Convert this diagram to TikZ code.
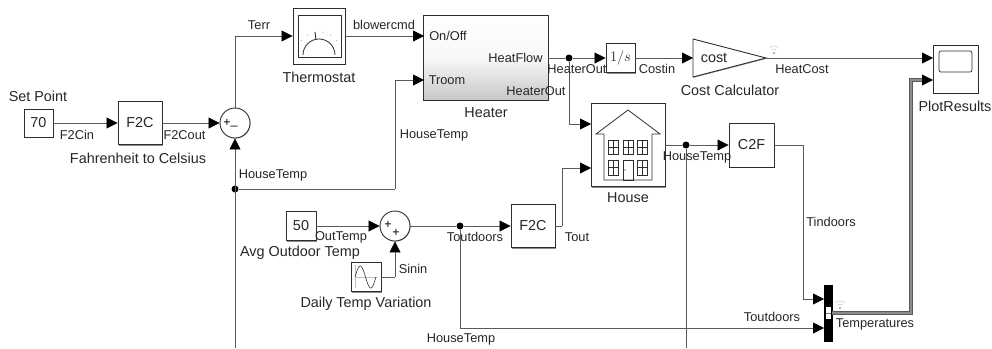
\documentclass[tikz,border=0pt]{standalone}
\usepackage{fontspec}
\setmainfont{Liberation Sans}
\usetikzlibrary{arrows.meta,shadows}

\definecolor{wireColour}{HTML}{5A5A5A}
\definecolor{borderColour}{HTML}{2E2E2E}
\definecolor{textColour}{HTML}{262626}

\tikzset{
    block/.style={draw=borderColour, fill=white, line width=0.9pt, inner sep=0pt,
        text=textColour, font=\fontsize{14.4}{16}\selectfont,
        drop shadow={shadow xshift=1pt, shadow yshift=-1pt, opacity=0.45, fill=black}},
    wire/.style={draw=wireColour, line width=0.8pt},
    feed/.style={wire, -{Triangle[length=11pt,width=11pt,black]}},
    junction/.style={circle, fill=black, inner sep=0pt, minimum size=7pt},
    sumBlock/.style={circle, draw=borderColour, fill=white, line width=0.9pt, inner sep=0pt,
        minimum size=30pt, drop shadow={shadow xshift=0.6pt, shadow yshift=-0.6pt, opacity=0.4, fill=black}},
    blockName/.style={text=textColour, inner sep=0pt, font=\fontsize{14.4}{16}\selectfont},
    signalName/.style={text=textColour, inner sep=0pt, font=\fontsize{12.8}{14}\selectfont},
    sumSign/.style={text=black, inner sep=0pt, font=\fontsize{12.5}{12.5}\selectfont}
}

\begin{document}
\begin{tikzpicture}[x=1pt, y=-1pt]
    \useasboundingbox (0,0) rectangle (992,348);

    % Blocks
    \node[block, minimum width=29pt, minimum height=28pt] (setPoint) at (38.5,123) {70};
    \node[block, minimum width=44pt, minimum height=43pt] (f2cSet) at (140,123) {F2C};
    \node[sumBlock] (sumErr) at (235,123) {};
    \node[block, minimum width=52pt, minimum height=56pt] (thermostat) at (319,36) {};
    \node[block, minimum width=124pt, minimum height=84pt] (heater) at (486,58) {};
    \shade[top color=white, bottom color=black!22, middle color=black!3] (heater.north west) rectangle (heater.south east);
    \draw[draw=borderColour, line width=0.9pt] (heater.north west) rectangle (heater.south east);
    \node[block, minimum width=29pt, minimum height=29pt] (integrator) at (620.5,58) {$1/s$};
    \node[block, minimum width=74pt, minimum height=83pt] (house) at (628,145) {};
    \node[block, minimum width=45pt, minimum height=44pt] (c2f) at (751.5,145) {C2F};
    \node[block, minimum width=45pt, minimum height=48pt] (plotResults) at (955.5,69) {};
    \node[block, minimum width=30pt, minimum height=29pt] (outdoor) at (301,226) {50};
    \node[sumBlock] (sumOut) at (395,226) {};
    \node[block, minimum width=44pt, minimum height=43pt] (f2cOut) at (533,226) {F2C};
    \node[block, minimum width=30pt, minimum height=29pt] (sine) at (366,277) {};
    \node[draw=black, fill=black, minimum width=8pt, minimum height=56pt, inner sep=0pt] (mux) at (828,313) {};

    % Gain triangle
    \coordinate (gainIn) at (693,58);
    \coordinate (gainTip) at (766,58);
    \draw[fill=white, draw=borderColour, line width=0.9pt, drop shadow={shadow xshift=0.6pt, shadow yshift=-0.8pt, opacity=0.4, fill=black}]
        (693,39) -- (gainTip) -- (693,77) -- cycle;
    \node[blockName] (gainText) at (714,58) {cost};

    % Junctions
    \node[junction] (dotHouseTemp) at (235,189) {};
    \node[junction] (dotHeater) at (569,58) {};
    \node[junction] (dotHouseOut) at (686,145) {};
    \node[junction] (dotOutdoors) at (460,226) {};

    % Free ends and ports
    \coordinate (endSum) at (235,348);
    \coordinate (endHouse) at (686,348);
    \coordinate (heaterOn) at (424,36);
    \coordinate (heaterRoom) at (424,80);
    \coordinate (heaterFlow) at (548,58);
    \coordinate (bendRoom) at (395,189);
    \coordinate (houseHeat) at (591,124);
    \coordinate (houseOut) at (591,168);
    \coordinate (f2cOutEast) at (555,226);
    \coordinate (bendTout) at (562,226);
    \coordinate (scopeCost) at (933,58);
    \coordinate (scopeTemp) at (933,80);
    \coordinate (muxIndoor) at (824,299);
    \coordinate (muxOutdoor) at (824,328);
    \coordinate (muxOut) at (832,313);
    \coordinate (bendIndoor) at (803,145);
    \coordinate (bendScope) at (911,313);
    \coordinate (bendOutdoor) at (460,328);
    \coordinate (sineEast) at (381,277);
    \coordinate (bendSine) at (395,277);

    % Connectors
    \draw[feed] (setPoint) -- (f2cSet);
    \draw[feed] (f2cSet) -- (sumErr);
    \draw[feed] (sumErr) |- (thermostat);
    \draw[feed] (thermostat) -- (heaterOn);
    \draw[feed] (endSum) -- (sumErr);
    \draw[wire] (dotHouseTemp) -- (bendRoom);
    \draw[feed] (bendRoom) |- (heaterRoom);
    \draw[wire] (heaterFlow) -- (dotHeater);
    \draw[feed] (dotHeater) -- (integrator);
    \draw[feed] (dotHeater) |- (houseHeat);
    \draw[feed] (integrator) -- (gainIn);
    \draw[feed] (gainTip) -- (scopeCost);
    \draw[wire] (house) -- (dotHouseOut);
    \draw[feed] (dotHouseOut) -- (c2f);
    \draw[wire] (dotHouseOut) -- (endHouse);
    \draw[wire] (c2f) -- (bendIndoor);
    \draw[feed] (bendIndoor) |- (muxIndoor);
    \draw[feed] (outdoor) -- (sumOut);
    \draw[wire] (sumOut) -- (dotOutdoors);
    \draw[feed] (dotOutdoors) -- (f2cOut);
    \draw[wire] (f2cOutEast) -- (bendTout);
    \draw[feed] (bendTout) |- (houseOut);
    \draw[wire] (dotOutdoors) -- (bendOutdoor);
    \draw[feed] (bendOutdoor) -- (muxOutdoor);
    \draw[wire] (sineEast) -- (bendSine);
    \draw[feed] (bendSine) -- (sumOut);

    % Bus to the scope
    \draw[draw=wireColour, line width=1pt, double=black!45, double distance=1.3pt] (muxOut) -- (bendScope) |- ([xshift=-10pt]scopeTemp);
    \fill[black] (scopeTemp) -- ++(-11,-5.5) -- ++(0,11) -- cycle;

    % Signs of the sums
    \node[sumSign] (plusErr) at (227,123) {+};
    \node[sumSign] (minusErr) at (234,126) {\_};
    \node[sumSign] (plusOutA) at (388,225) {+};
    \node[sumSign] (plusOutB) at (396,233) {+};

    % Thermostat face
    \coordinate (gaugeCentre) at (319,55);
    \draw[borderColour, line width=0.7pt] (298,15) rectangle (341,57);
    \draw[borderColour, line width=0.8pt] ([shift={(0:16pt)}]gaugeCentre) arc[start angle=0, end angle=180, radius=16pt];
    \draw[borderColour, line width=0.9pt] (315,32) -- (316,40);
    \foreach \a in {40,60,80,100,120,140}
        \fill[gray] ([shift={(\a:23pt)}]gaugeCentre) circle (0.5pt);

    % House picture
    \draw[borderColour, line width=0.8pt] (604,134) -- (596,134) -- (628,110) -- (660,134) -- (652,134) -- (652,180) -- (604,180) -- cycle;
    \foreach \wx in {608,623,637} {
        \draw[borderColour, line width=0.6pt] (\wx,140) rectangle ++(10,14);
        \draw[borderColour, line width=0.6pt] (\wx+5,140) -- ++(0,14);
        \draw[borderColour, line width=0.6pt] (\wx,147) -- ++(10,0);
    }
    \foreach \wx in {608,637} {
        \draw[borderColour, line width=0.6pt] (\wx,160) rectangle ++(10,15);
        \draw[borderColour, line width=0.6pt] (\wx+5,160) -- ++(0,15);
        \draw[borderColour, line width=0.6pt] (\wx,167) -- ++(10,0);
    }
    \draw[borderColour, line width=0.6pt] (623,160) rectangle (633,180);
    \fill[black] (625,170) circle (0.7pt);

    % Scope screen
    \draw[borderColour, line width=0.7pt, rounded corners=2pt] (939,51) rectangle (972,72);

    % Sine source
    \draw[gray!50, line width=0.5pt] (355,265) -- (355,288) (355,277) -- (377,277);
    \draw[borderColour, line width=0.6pt] plot[domain=0:360, samples=40, smooth] ({355+\x/360*21},{277-11*sin(\x)});

    % Mux slot
    \fill[white] (825.5,307) rectangle (830.5,319);
    \draw[gray, line width=0.8pt] (825.5,313) -- (830.5,313);

    % Wireless marks
    \coordinate (wifiCost) at (774,53);
    \coordinate (wifiTemp) at (840,308);
    \foreach \mark in {wifiCost,wifiTemp} {
        \fill[gray!60] (\mark) circle (1.3pt);
        \foreach \r in {4,7}
            \draw[gray!40, line width=0.6pt] ([shift={(50:\r pt)}]\mark) arc[start angle=50, end angle=130, radius=\r pt];
    }

    % Block names
    \node[blockName] (nameSetPoint) at (38,96) {Set Point};
    \node[blockName] (nameF2c) at (138,158) {Fahrenheit to Celsius};
    \node[blockName] (nameThermostat) at (319,77) {Thermostat};
    \node[blockName] (nameHeater) at (486,113) {Heater};
    \node[blockName] (nameCost) at (730,90) {Cost Calculator};
    \node[blockName] (namePlot) at (955,106) {PlotResults};
    \node[blockName] (nameHouse) at (628,198) {House};
    \node[blockName] (nameOutdoor) at (300,253) {Avg Outdoor Temp};
    \node[blockName] (nameSine) at (366,304) {Daily Temp Variation};

    % Heater ports
    \node[signalName] (portOn) at (448,36) {On/Off};
    \node[signalName] (portRoom) at (447,80) {Troom};
    \node[signalName] (portFlow) at (515.5,58) {HeatFlow};
    \node[signalName] (portOut) at (536,91) {HeaterOut};

    % Signal names
    \node[signalName] (sigF2cIn) at (77,135) {F2Cin};
    \node[signalName] (sigF2cOut) at (184.5,135) {F2Cout};
    \node[signalName] (sigTerr) at (259,25) {Terr};
    \node[signalName] (sigHouseA) at (273,175) {HouseTemp};
    \node[signalName] (sigBlower) at (384,25) {blowercmd};
    \node[signalName] (sigHouseB) at (434,135) {HouseTemp};
    \node[signalName] (sigHeater) at (577,69) {HeaterOut};
    \node[signalName] (sigCostIn) at (657,69) {Costin};
    \node[signalName] (sigHeatCost) at (802,69) {HeatCost};
    \node[signalName] (sigHouseC) at (697,157) {HouseTemp};
    \node[signalName] (sigIndoors) at (831,222) {Tindoors};
    \node[signalName] (sigOutdoorsA) at (772,317) {Toutdoors};
    \node[signalName] (sigTemps) at (875,324) {Temperatures};
    \node[signalName] (sigOutTemp) at (341,237) {OutTemp};
    \node[signalName] (sigSine) at (413,269) {Sinin};
    \node[signalName] (sigOutdoorsB) at (475,237) {Toutdoors};
    \node[signalName] (sigHouseD) at (461,339) {HouseTemp};
    \node[signalName] (sigTout) at (577,237) {Tout};

\end{tikzpicture}
\end{document}
